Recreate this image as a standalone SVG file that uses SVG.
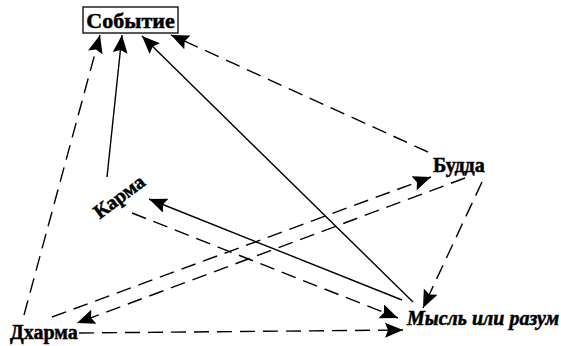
<svg xmlns="http://www.w3.org/2000/svg" width="561" height="346" viewBox="0 0 561 346">
<style>
  .lbl { font-family: "Liberation Serif", "Times New Roman", serif; font-weight: bold; font-size: 20px; fill: #000; stroke: #000; stroke-width: 0.5; }
  .it { font-style: italic; }
  .c { stroke: #000; stroke-width: 1.4; fill: none; marker-end: url(#ah); }
  .d { stroke-dasharray: 15 8; }
</style>
<defs>
  <marker id="ah" markerUnits="userSpaceOnUse" markerWidth="19" markerHeight="15" refX="18" refY="7.5" orient="auto">
    <path d="M0,0 L18,7.5 L0,15 L3,7.5 z" fill="#000"/>
  </marker>
</defs>
<rect width="561" height="346" fill="#fff"/>
<g id="connectors">
  <line class="c d" x1="24" y1="315" x2="100" y2="35"/>
  <line class="c" x1="107" y1="177" x2="122" y2="35"/>
  <line class="c" x1="413" y1="302" x2="142" y2="36"/>
  <line class="c d" x1="428" y1="152" x2="171" y2="35"/>
  <line class="c" x1="402" y1="300" x2="149" y2="199"/>
  <line class="c d" x1="132" y1="213" x2="398" y2="318"/>
  <line class="c d" x1="52" y1="317" x2="431" y2="177"/>
  <line class="c d" x1="465" y1="178" x2="77" y2="323"/>
  <line class="c d" x1="482" y1="182" x2="423" y2="308"/>
  <line class="c d" x1="79" y1="333" x2="403" y2="330"/>
</g>
<g id="sobytie">
  <rect x="83" y="7" width="95" height="26" fill="#fff" stroke="#000" stroke-width="1.3"/>
  <text class="lbl" x="130.5" y="28" text-anchor="middle" style="font-size:22px">Событие</text>
</g>
<g id="karma">
  <text class="lbl" transform="translate(123,202) rotate(-37)" text-anchor="middle" style="font-size:20px">Карма</text>
</g>
<g id="budda">
  <text class="lbl" x="433" y="172">Будда</text>
</g>
<g id="dharma">
  <text class="lbl" x="10" y="339">Дхарма</text>
</g>
<g id="mysl">
  <text class="lbl it" x="407" y="325">Мысль или разум</text>
</g>
</svg>
